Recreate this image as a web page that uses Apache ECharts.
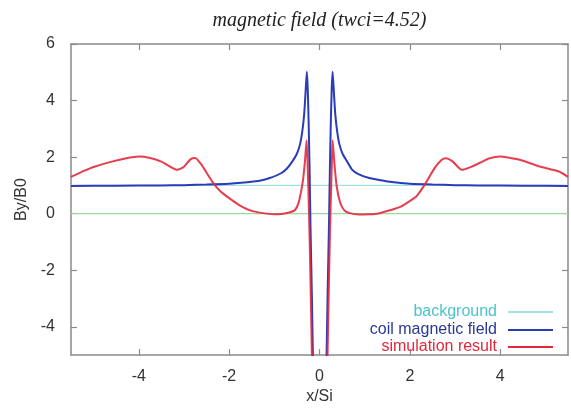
<!DOCTYPE html>
<html>
<head>
<meta charset="utf-8">
<script src="https://cdn.jsdelivr.net/npm/echarts@6/dist/echarts.min.js"></script>
<style>
  html, body { margin: 0; padding: 0; background: #fff; }
  #chart { width: 571px; height: 410px; }
</style>
</head>
<body>
<div id="chart"></div>
<script>
// Tick positions
const xTicks = [-4, -2, 0, 2, 4];
const yTicks = [-4, -2, 0, 2, 4, 6];

// Uniform background field and the zero reference
const bgX = [-5.5, 5.5];
const bgY = [1, 1];
const zeroX = [-5.5, 5.5];
const zeroY = [0, 0];

// Field of the coil alone
const coilX = [-5.5, -4.5, -3.5, -3.0, -2.5, -2.0, -1.6, -1.3, -1.1, -0.85, -0.72, -0.6, -0.5, -0.43, -0.38, -0.34, -0.31, -0.28,
  -0.26, -0.24, -0.22, -0.20, -0.17, -0.14, -0.10, 0,
  0.10, 0.15, 0.18, 0.21, 0.23, 0.25, 0.27, 0.29, 0.32, 0.35, 0.39, 0.44, 0.51, 0.61, 0.72, 0.86, 1.1, 1.3, 1.6, 2.0, 2.5, 3.0, 3.5, 4.5, 5.5];
const coilY = [0.98, 0.99, 1.0, 1.01, 1.03, 1.06, 1.11, 1.17, 1.26, 1.43, 1.6, 1.85, 2.12, 2.46, 2.92, 3.5, 4.25, 5.02,
  4.4, 3.2, 1.6, -0.4, -2.8, -5.6, -9, -12,
  -9, -5.6, -2.8, -0.4, 1.6, 3.2, 4.4, 5.02, 4.25, 3.5, 2.92, 2.46, 2.12, 1.85, 1.56, 1.4, 1.26, 1.2, 1.12, 1.06, 1.03, 1.01, 1.0, 0.99, 0.98];

// Simulated field
const simX = [-5.5, -5.2, -5.0, -4.6, -4.3, -4.0, -3.75, -3.5, -3.3, -3.15, -3.0, -2.85, -2.75, -2.62, -2.5, -2.35, -2.2, -2.0, -1.75, -1.5, -1.25, -1.0, -0.8, -0.65, -0.54, -0.46, -0.40, -0.36, -0.32, -0.285,
  -0.26, -0.235, -0.21, -0.18, -0.16, -0.10, 0,
  0.10, 0.17, 0.19, 0.22, 0.245, 0.27, 0.29,
  0.33, 0.38, 0.46, 0.55, 0.65, 0.87, 1.1, 1.3, 1.6, 1.8, 2.0, 2.15, 2.35, 2.55, 2.7, 2.8, 2.95, 3.15, 3.3, 3.55, 3.75, 4.0, 4.2, 4.45, 4.85, 5.3, 5.5];
const simY = [1.30, 1.52, 1.65, 1.84, 1.95, 2.02, 1.97, 1.84, 1.66, 1.55, 1.66, 1.93, 1.97, 1.75, 1.45, 1.08, 0.8, 0.55, 0.28, 0.1, 0.02, -0.02, 0.0, 0.05, 0.13, 0.4, 0.85, 1.25, 1.9, 2.6,
  1.6, 0.2, -1.5, -4, -5.6, -10, -13,
  -10, -5.6, -4, -1.5, 0.2, 1.6, 2.6,
  1.78, 0.97, 0.38, 0.12, 0.03, -0.03, -0.02, 0.01, 0.14, 0.25, 0.45, 0.62, 1.08, 1.62, 1.9, 1.96, 1.84, 1.55, 1.62, 1.8, 1.95, 2.02, 1.98, 1.9, 1.68, 1.49, 1.3];

const pairs = (xs, ys) => xs.map((x, i) => [x, ys[i]]);

const axisGray = '#8a8a8a';
const labelFont = { fontFamily: 'Liberation Sans', fontSize: 16, color: '#333' };

function xAxisDef(pos, showLabels) {
  return {
    type: 'value', position: pos, min: -5.5, max: 5.5,
    name: showLabels ? 'x/Si' : '', nameLocation: 'middle', nameGap: 29,
    nameTextStyle: labelFont,
    axisLine: { show: true, onZero: false, lineStyle: { color: axisGray, width: 1.5 } },
    axisTick: { show: true, inside: true, length: 6, customValues: xTicks, lineStyle: { color: axisGray, width: 1.2 } },
    axisLabel: { show: showLabels, margin: 13, customValues: xTicks, ...labelFont },
    splitLine: { show: false }
  };
}
function yAxisDef(pos, showLabels) {
  return {
    type: 'value', position: pos, min: -5, max: 6,
    name: showLabels ? 'By/B0' : '', nameLocation: 'middle', nameGap: 38,
    nameTextStyle: labelFont,
    axisLine: { show: true, onZero: false, lineStyle: { color: axisGray, width: 1.5 } },
    axisTick: { show: true, inside: true, length: 6, customValues: yTicks, lineStyle: { color: axisGray, width: 1.2 } },
    axisLabel: { show: showLabels, margin: 16, customValues: yTicks, ...labelFont },
    splitLine: { show: false }
  };
}

const legendItem = (name, top, color) => ({
  data: [name], right: 18, top: top, orient: 'vertical', align: 'right',
  icon: 'rect', itemWidth: 45, itemHeight: 2, padding: 0,
  selectedMode: false,
  textStyle: { color: color, fontFamily: 'Liberation Sans', fontSize: 16, padding: [0, 6, 0, 0] }
});

const chart = echarts.init(document.getElementById('chart'), null, { renderer: 'canvas' });
chart.setOption({
  animation: false,
  backgroundColor: '#fff',
  title: {
    text: 'magnetic field (twci=4.52)',
    left: 319.5, top: 11, textAlign: 'center', padding: 0,
    textStyle: { fontFamily: 'Liberation Serif', fontStyle: 'italic', fontWeight: 'normal', fontSize: 20, color: '#222' }
  },
  legend: [
    legendItem('background', 304, '#4cc3cf'),
    legendItem('coil magnetic field', 322, '#283898'),
    legendItem('simulation result', 339, '#e2283c')
  ],
  grid: { left: 71, right: 3, top: 44, bottom: 50, containLabel: false },
  xAxis: [xAxisDef('bottom', true), xAxisDef('top', false)],
  yAxis: [yAxisDef('left', true), yAxisDef('right', false)],
  series: [
    { name: 'background', type: 'line', data: pairs(bgX, bgY), symbol: 'none', color: '#a3e0e2',
      lineStyle: { width: 1.3, color: '#a3e0e2' }, z: 2 },
    { name: 'zero', type: 'line', data: pairs(zeroX, zeroY), symbol: 'none', color: '#9ed89e',
      lineStyle: { width: 1.3, color: '#9ed89e' }, z: 2 },
    { name: 'coil magnetic field', type: 'line', data: pairs(coilX, coilY), symbol: 'none', color: '#2a3cb8',
      lineStyle: { width: 2, color: '#2a3cb8' }, smooth: 0.2, clip: true, z: 3 },
    { name: 'simulation result', type: 'line', data: pairs(simX, simY), symbol: 'none', color: '#e3283c',
      lineStyle: { width: 2, color: '#e3283c', opacity: 0.9 }, smooth: 0.2, clip: true, z: 4 }
  ]
});
</script>
</body>
</html>
